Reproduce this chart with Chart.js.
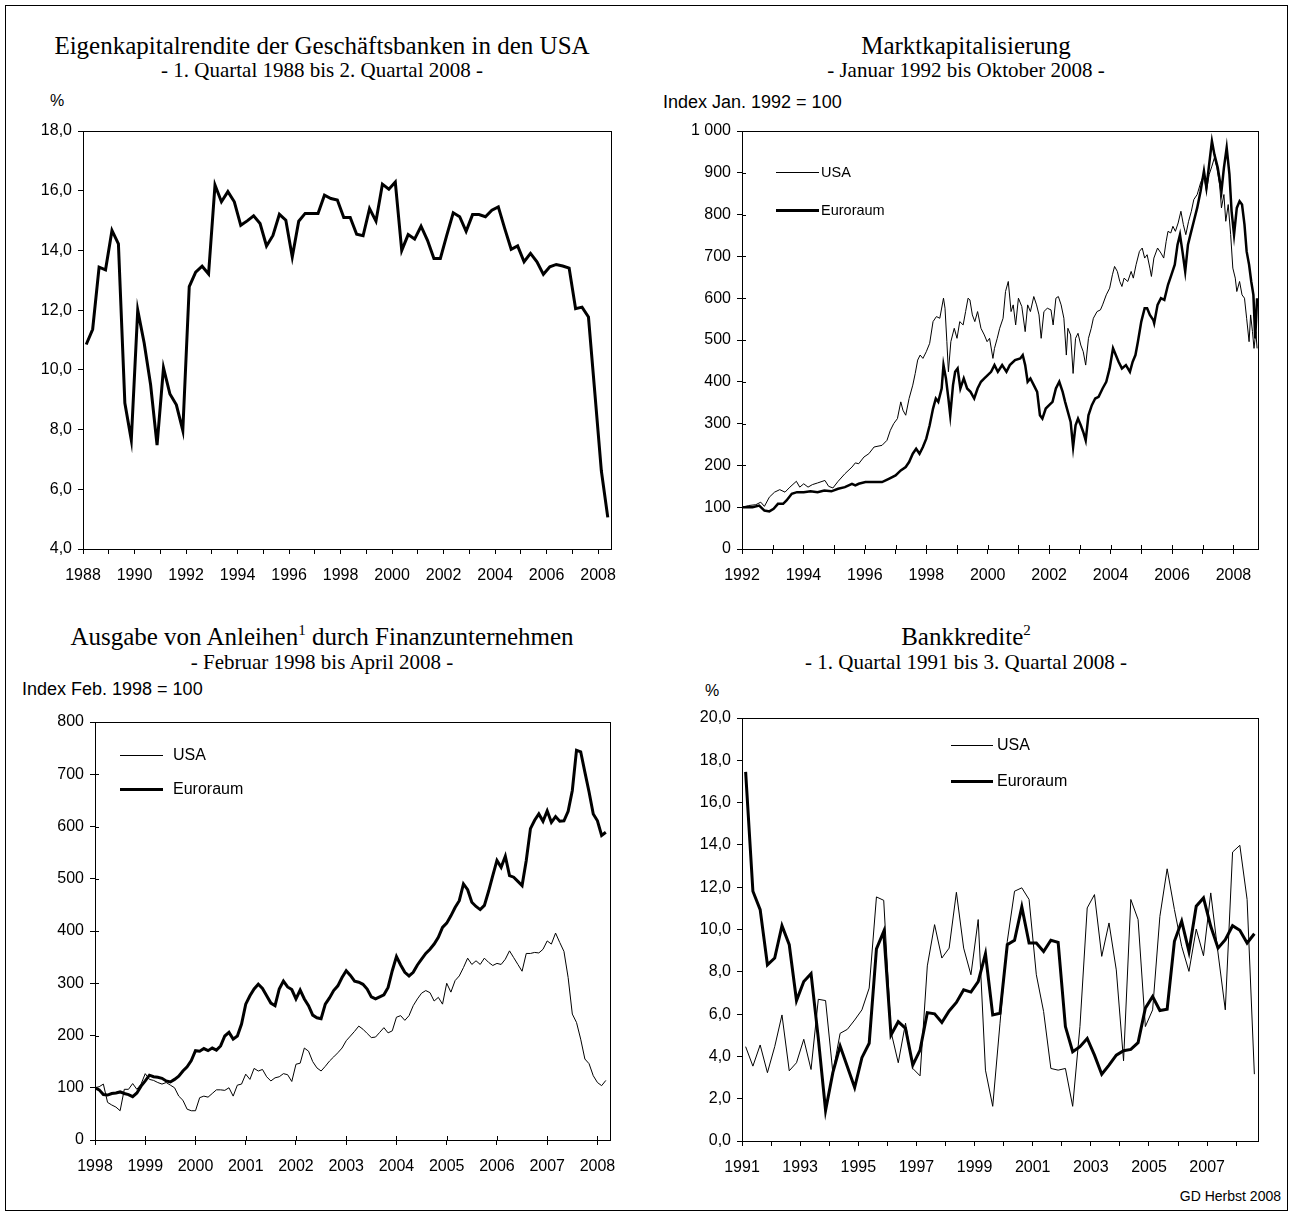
<!DOCTYPE html>
<html>
<head>
<meta charset="utf-8">
<script src="https://cdn.jsdelivr.net/npm/chart.js@4.4.0/dist/chart.umd.min.js"></script>
<style>
  body { margin: 0; background: #fff; }
  #page { position: relative; width: 1293px; height: 1216px; font-family: "Liberation Sans", Arial, sans-serif; color: #000; }
  #border { position: absolute; left: 5px; top: 5px; width: 1281px; height: 1204px; border: 1px solid #000; }
  .title, .sub { position: absolute; width: 644px; text-align: center; font-family: "Liberation Serif", "Times New Roman", serif; white-space: nowrap; }
  .title { font-size: 25px; line-height: 28px; }
  .sub { font-size: 21px; line-height: 24px; }
  .title sup { font-size: 15px; line-height: 0; vertical-align: 10px; }
  .unit { position: absolute; font-size: 18px; line-height: 20px; white-space: nowrap; }
  .leg { position: absolute; line-height: 20px; white-space: nowrap; }
  .legline { position: absolute; background: #000; }
  canvas { position: absolute; }
</style>
</head>
<body>
<div id="page">
  <div id="border"></div>

  <div class="title" style="left:0;top:32px">Eigenkapitalrendite der Geschäftsbanken in den USA</div>
  <div class="sub" style="left:0;top:58px">- 1. Quartal 1988 bis 2. Quartal 2008 -</div>
  <div class="unit" style="left:50px;top:91px;font-size:16px">%</div>

  <div class="title" style="left:644px;top:32px">Marktkapitalisierung</div>
  <div class="sub" style="left:644px;top:58px">- Januar 1992 bis Oktober 2008 -</div>
  <div class="unit" style="left:663px;top:92px">Index Jan. 1992 = 100</div>

  <div class="title" style="left:0;top:623px">Ausgabe von Anleihen<sup>1</sup> durch Finanzunternehmen</div>
  <div class="sub" style="left:0;top:650px">- Februar 1998 bis April 2008 -</div>
  <div class="unit" style="left:22px;top:679px">Index Feb. 1998 = 100</div>

  <div class="title" style="left:644px;top:623px">Bankkredite<sup>2</sup></div>
  <div class="sub" style="left:644px;top:650px">- 1. Quartal 1991 bis 3. Quartal 2008 -</div>
  <div class="unit" style="left:705px;top:681px;font-size:16px">%</div>

  <div class="unit" style="right:12px;top:1186px;font-size:14px">GD Herbst 2008</div>
</div>

<script>
// Eigenkapitalrendite, quarterly from Q1 1988
const ekStart = 1988;
const ekValues = [10.85, 11.36, 13.44, 13.35, 14.67, 14.22, 8.89, 7.65, 12.0, 10.9,
  9.5, 7.48, 10.07, 9.19, 8.83, 7.97, 12.79, 13.27, 13.47, 13.21,
  16.19, 15.63, 15.97, 15.63, 14.84, 14.99, 15.16, 14.9, 14.15, 14.5,
  15.21, 15.01, 13.78, 14.98, 15.24, 15.24, 15.24, 15.85, 15.74, 15.69,
  15.1, 15.1, 14.54, 14.49, 15.4, 14.98, 16.22, 16.05, 16.29, 14.0,
  14.53, 14.38, 14.81, 14.34, 13.73, 13.73, 14.51, 15.26, 15.13, 14.64,
  15.2, 15.2, 15.13, 15.35, 15.46, 14.73, 14.04, 14.15, 13.62, 13.9,
  13.62, 13.2, 13.45, 13.53, 13.48, 13.41, 12.05, 12.1, 11.77, 9.2,
  6.62, 5.06];

// Marktkapitalisierung, index Jan 1992 = 100 (time in decimal years)
const mkUsaT = [1992.0, 1992.22, 1992.45, 1992.61, 1992.73, 1992.89, 1993.06, 1993.23, 1993.4, 1993.56,
  1993.77, 1993.88, 1994.01, 1994.15, 1994.29, 1994.46, 1994.7, 1994.82, 1994.96, 1995.13,
  1995.35, 1995.58, 1995.69, 1995.8, 1995.97, 1996.13, 1996.3, 1996.56, 1996.72, 1996.83,
  1996.94, 1997.06, 1997.17, 1997.24, 1997.33, 1997.44, 1997.56, 1997.64, 1997.72, 1997.8,
  1997.89, 1998.0, 1998.11, 1998.22, 1998.33, 1998.44, 1998.56, 1998.61, 1998.67, 1998.72,
  1998.8, 1998.91, 1999.0, 1999.09, 1999.2, 1999.28, 1999.36, 1999.42, 1999.5, 1999.58,
  1999.67, 1999.78, 1999.89, 1999.98, 2000.06, 2000.17, 2000.22, 2000.31, 2000.39, 2000.5,
  2000.58, 2000.67, 2000.76, 2000.83, 2000.91, 2001.0, 2001.11, 2001.22, 2001.3, 2001.39,
  2001.5, 2001.59, 2001.67, 2001.74, 2001.83, 2001.94, 2002.06, 2002.13, 2002.22, 2002.3,
  2002.39, 2002.48, 2002.56, 2002.61, 2002.7, 2002.78, 2002.86, 2002.94, 2003.03, 2003.11,
  2003.19, 2003.28, 2003.37, 2003.44, 2003.56, 2003.67, 2003.74, 2003.86, 2003.97, 2004.06,
  2004.13, 2004.22, 2004.3, 2004.37, 2004.44, 2004.56, 2004.67, 2004.74, 2004.83, 2004.94,
  2005.03, 2005.11, 2005.19, 2005.28, 2005.33, 2005.41, 2005.53, 2005.64, 2005.73, 2005.81,
  2005.87, 2005.96, 2006.03, 2006.11, 2006.2, 2006.29, 2006.37, 2006.45, 2006.54, 2006.63,
  2006.71, 2006.82, 2006.93, 2007.04, 2007.12, 2007.21, 2007.3, 2007.38, 2007.46, 2007.55,
  2007.61, 2007.69, 2007.75, 2007.83, 2007.91, 2007.98, 2008.06, 2008.11, 2008.2, 2008.28,
  2008.36, 2008.43, 2008.51, 2008.56, 2008.62, 2008.67, 2008.73, 2008.77];
const mkUsaV = [100, 104, 106, 112, 102, 124, 136, 142, 136, 148,
  162, 148, 156, 148, 154, 158, 164, 150, 146, 162,
  180, 196, 206, 204, 220, 228, 244, 248, 260, 284,
  300, 312, 352, 332, 320, 360, 392, 420, 452, 464,
  456, 472, 492, 544, 556, 552, 600, 576, 496, 424,
  496, 528, 504, 544, 536, 568, 600, 596, 560, 544,
  568, 528, 512, 496, 504, 456, 480, 504, 528, 552,
  616, 640, 568, 584, 536, 600, 580, 520, 584, 568,
  604, 584, 560, 504, 568, 576, 572, 536, 600, 604,
  584, 552, 464, 528, 512, 420, 504, 516, 488, 472,
  440, 504, 528, 552, 568, 572, 584, 608, 624, 656,
  676, 664, 640, 628, 648, 640, 664, 648, 680, 712,
  720, 696, 704, 672, 652, 696, 720, 708, 696, 736,
  760, 756, 772, 760, 780, 808, 776, 752, 784, 808,
  836, 848, 876, 896, 856, 896, 916, 936, 912, 872,
  816, 848, 784, 824, 752, 672, 648, 616, 640, 608,
  600, 552, 496, 560, 520, 480, 520, 480];
const mkEuroT = [1992.0, 1992.34, 1992.56, 1992.73, 1992.89, 1993.03, 1993.17, 1993.34, 1993.45, 1993.62,
  1993.79, 1994.01, 1994.23, 1994.46, 1994.68, 1994.91, 1995.13, 1995.35, 1995.58, 1995.69,
  1995.8, 1996.02, 1996.25, 1996.56, 1996.78, 1997.0, 1997.17, 1997.33, 1997.44, 1997.56,
  1997.67, 1997.78, 1997.89, 1998.0, 1998.11, 1998.22, 1998.31, 1998.39, 1998.5, 1998.56,
  1998.64, 1998.72, 1998.78, 1998.87, 1998.94, 1999.02, 1999.11, 1999.22, 1999.33, 1999.44,
  1999.56, 1999.67, 1999.78, 1999.89, 2000.0, 2000.11, 2000.22, 2000.33, 2000.47, 2000.61,
  2000.72, 2000.89, 2001.06, 2001.14, 2001.22, 2001.3, 2001.39, 2001.5, 2001.61, 2001.7,
  2001.78, 2001.89, 2002.0, 2002.11, 2002.22, 2002.33, 2002.44, 2002.52, 2002.61, 2002.7,
  2002.78, 2002.86, 2002.94, 2003.03, 2003.11, 2003.19, 2003.28, 2003.39, 2003.5, 2003.61,
  2003.74, 2003.86, 2003.97, 2004.08, 2004.17, 2004.26, 2004.37, 2004.5, 2004.63, 2004.72,
  2004.81, 2004.89, 2005.0, 2005.11, 2005.19, 2005.28, 2005.39, 2005.42, 2005.53, 2005.64,
  2005.75, 2005.87, 2005.98, 2006.09, 2006.18, 2006.26, 2006.34, 2006.43, 2006.52, 2006.6,
  2006.71, 2006.82, 2006.93, 2007.04, 2007.12, 2007.21, 2007.3, 2007.38, 2007.49, 2007.61,
  2007.69, 2007.78, 2007.87, 2007.94, 2008.02, 2008.11, 2008.2, 2008.28, 2008.36, 2008.43,
  2008.51, 2008.58, 2008.65, 2008.71, 2008.75, 2008.77];
const mkEuroV = [100, 100, 104, 92, 90, 96, 108, 108, 116, 132,
  136, 136, 138, 136, 140, 138, 144, 148, 156, 152,
  156, 160, 160, 160, 168, 176, 188, 196, 208, 228,
  240, 228, 244, 264, 296, 336, 360, 352, 384, 440,
  408, 360, 320, 392, 424, 432, 384, 408, 384, 376,
  360, 384, 400, 408, 416, 424, 440, 424, 440, 424,
  440, 452, 456, 464, 440, 400, 408, 392, 376, 320,
  312, 336, 344, 352, 384, 400, 376, 352, 328, 304,
  244, 296, 312, 296, 280, 260, 320, 344, 360, 364,
  384, 400, 432, 480, 464, 448, 432, 440, 424, 448,
  464, 496, 544, 576, 576, 560, 548, 540, 584, 600,
  596, 632, 656, 680, 728, 752, 712, 664, 728, 752,
  784, 816, 856, 904, 864, 920, 976, 944, 912, 856,
  912, 960, 896, 808, 752, 816, 832, 824, 776, 712,
  680, 640, 608, 504, 568, 600];

// Ausgabe von Anleihen, monthly from Feb 1998, index Feb 1998 = 100
const anStart = 1998;
const anUsa = [100, 102, 107, 72, 67, 63, 56, 97, 97, 108,
  97, 107, 127, 116, 114, 110, 107, 110, 105, 100,
  84, 76, 59, 56, 56, 81, 84, 82, 89, 96,
  96, 95, 100, 84, 105, 107, 126, 116, 137, 132,
  135, 121, 113, 119, 121, 127, 125, 112, 145, 147,
  176, 170, 150, 138, 132, 141, 151, 159, 167, 176,
  190, 199, 208, 218, 212, 204, 196, 197, 206, 215,
  205, 209, 235, 238, 229, 238, 257, 270, 281, 286,
  282, 266, 273, 260, 300, 283, 305, 314, 330, 348,
  336, 343, 336, 348, 340, 334, 338, 336, 346, 362,
  349, 336, 323, 357, 357, 359, 358, 365, 381, 375,
  396, 378, 361, 311, 241, 225, 193, 155, 146, 123,
  110, 104, 114];
const anEuro = [100, 96, 87, 86, 89, 90, 92, 89, 87, 83,
  90, 103, 113, 124, 121, 120, 118, 113, 111, 116,
  122, 132, 140, 152, 171, 170, 175, 171, 176, 172,
  180, 199, 206, 193, 199, 222, 260, 276, 289, 298,
  290, 276, 262, 257, 289, 304, 293, 288, 270, 287,
  270, 257, 239, 234, 232, 260, 272, 286, 295, 311,
  324, 315, 304, 302, 298, 289, 274, 270, 274, 278,
  292, 324, 351, 335, 321, 314, 321, 335, 346, 357,
  365, 375, 388, 407, 415, 429, 445, 458, 490, 479,
  455, 447, 441, 449, 476, 506, 535, 522, 543, 506,
  503, 495, 487, 535, 596, 612, 624, 610, 630, 608,
  619, 610, 611, 629, 669, 746, 743, 704, 666, 624,
  611, 583, 589];

// Bankkredite, quarterly from Q1 1991, % change
const bkStart = 1991;
const bkUsa = [4.46, 3.54, 4.54, 3.23, 4.46, 5.96, 3.32, 3.70, 4.81, 3.38,
  6.70, 6.64, 3.23, 5.09, 5.28, 5.72, 6.20, 7.23, 11.54, 11.38,
  5.17, 3.70, 5.57, 3.43, 3.08, 8.28, 10.23, 8.65, 9.12, 11.76,
  9.12, 7.86, 10.47, 3.35, 1.64, 5.57, 9.44, 11.81, 11.97, 11.42,
  7.86, 6.12, 3.43, 3.35, 3.43, 1.64, 5.41, 11.02, 11.65, 8.73,
  10.31, 8.09, 3.79, 11.42, 10.47, 5.41, 6.20, 10.62, 12.87, 10.94,
  9.20, 8.02, 10.02, 8.76, 11.73, 8.89, 6.20, 13.66, 13.98, 11.42,
  3.16];
const bkEuro = [17.45, 11.81, 10.94, 8.33, 8.65, 10.18, 9.28, 6.64, 7.54, 7.91,
  4.85, 1.45, 3.23, 4.49, 3.51, 2.53, 3.94, 4.62, 9.08, 9.91,
  5.01, 5.64, 5.33, 3.59, 4.30, 6.07, 6.01, 5.60, 6.15, 6.55,
  7.15, 7.04, 7.54, 8.85, 5.96, 6.04, 9.28, 9.49, 11.07, 9.36,
  9.36, 8.96, 9.49, 9.39, 5.41, 4.22, 4.46, 4.85, 4.06, 3.16,
  3.59, 4.06, 4.27, 4.33, 4.65, 6.28, 6.83, 6.17, 6.23, 9.44,
  10.39, 8.96, 11.10, 11.49, 10.15, 9.12, 9.52, 10.18, 9.96, 9.36,
  9.80];

const FONT = { family: '"Liberation Sans", Arial, sans-serif', size: 16 };

// box around the plot area plus short inner tick marks where the original has crossing ticks
const framePlugin = {
  id: 'frame',
  afterDraw(chart, args, opts) {
    const { ctx, chartArea: a, scales } = chart;
    ctx.save();
    ctx.strokeStyle = '#000';
    ctx.lineWidth = 1;
    ctx.strokeRect(Math.round(a.left) + 0.5, Math.round(a.top) + 0.5,
      Math.round(a.right - a.left), Math.round(a.bottom - a.top));
    if (opts.inner) {
      ctx.beginPath();
      scales.x.ticks.forEach(t => {
        const x = Math.round(scales.x.getPixelForValue(t.value)) + 0.5;
        ctx.moveTo(x, a.bottom); ctx.lineTo(x, a.bottom - opts.inner);
      });
      scales.y.ticks.forEach(t => {
        const y = Math.round(scales.y.getPixelForValue(t.value)) + 0.5;
        ctx.moveTo(a.left, y); ctx.lineTo(a.left + opts.inner, y);
      });
      ctx.stroke();
    }
    ctx.restore();
  }
};

function years(from, to) {
  const out = [];
  for (let y = from; y <= to; y++) out.push({ value: y });
  return out;
}

function makeChart(box, datasets, xCfg, yCfg, inner) {
  const YW = 80, PT = 22, PR = 28, XH = 46;
  const cv = document.createElement('canvas');
  const w = YW + (box.R - box.L) + PR, h = PT + (box.B - box.T) + XH;
  cv.width = w; cv.height = h;
  cv.style.left = (box.L - YW) + 'px';
  cv.style.top = (box.T - PT) + 'px';
  document.getElementById('page').appendChild(cv);
  new Chart(cv, {
    type: 'line',
    data: { datasets: datasets },
    plugins: [framePlugin],
    options: {
      responsive: false,
      animation: false,
      layout: { padding: { top: PT, right: PR, left: 0, bottom: 0 } },
      elements: { point: { radius: 0 }, line: { tension: 0, borderColor: '#000' } },
      plugins: { legend: { display: false }, tooltip: { enabled: false }, frame: { inner: inner } },
      scales: {
        x: {
          type: 'linear', min: xCfg.min, max: xCfg.max,
          afterBuildTicks: s => { s.ticks = years(xCfg.first, xCfg.last); },
          afterFit: s => { s.height = XH; },
          grid: { drawOnChartArea: false, tickLength: 5, color: '#000' },
          border: { color: '#000', width: 1 },
          ticks: { autoSkip: false, maxRotation: 0, padding: 12, color: '#000', font: FONT, callback: xCfg.label }
        },
        y: {
          min: yCfg.min, max: yCfg.max,
          afterFit: s => { s.width = YW; },
          grid: { drawOnChartArea: false, tickLength: 5, color: '#000' },
          border: { color: '#000', width: 1 },
          ticks: { stepSize: yCfg.step, padding: 6, color: '#000', font: FONT, callback: yCfg.label }
        }
      }
    }
  });
}

function legend(x, y, len, gap, size, text, lw) {
  const page = document.getElementById('page');
  const l = document.createElement('div');
  l.className = 'legline';
  l.style.cssText = `left:${x}px;top:${y - lw / 2}px;width:${len}px;height:${lw}px`;
  page.appendChild(l);
  const t = document.createElement('div');
  t.className = 'leg';
  t.style.cssText = `left:${x + len + gap}px;top:${y - 10}px;font-size:${size}px`;
  t.textContent = text;
  page.appendChild(t);
}

const comma1 = v => v.toFixed(1).replace('.', ',');
const thousands = v => String(v).replace(/\B(?=(\d{3})+(?!\d))/g, ' ');
const evenYears = v => (v % 2 === 0 ? String(v) : '');
const oddYears = v => (v % 2 !== 0 ? String(v) : '');

// chart 1
makeChart({ L: 83, R: 611, T: 131, B: 549 },
  [{ data: ekValues.map((v, i) => ({ x: ekStart + (i + 0.5) / 4, y: v })), borderWidth: 3 }],
  { min: 1988, max: 2008.5, first: 1988, last: 2008, label: evenYears },
  { min: 4, max: 18, step: 2, label: comma1 });

// chart 2
makeChart({ L: 742, R: 1258, T: 131, B: 549 },
  [
    { data: mkUsaT.map((t, i) => ({ x: t, y: mkUsaV[i] })), borderWidth: 1 },
    { data: mkEuroT.map((t, i) => ({ x: t, y: mkEuroV[i] })), borderWidth: 2.5 }
  ],
  { min: 1992, max: 2008.8, first: 1992, last: 2008, label: evenYears },
  { min: 0, max: 1000, step: 100, label: thousands }, 4);
legend(776, 172, 43, 2, 14.5, 'USA', 1);
legend(776, 210, 43, 2, 14.5, 'Euroraum', 3);

// chart 3
makeChart({ L: 95, R: 610, T: 722, B: 1140 },
  [
    { data: anUsa.map((v, i) => ({ x: anStart + i / 12, y: v })), borderWidth: 1 },
    { data: anEuro.map((v, i) => ({ x: anStart + i / 12, y: v })), borderWidth: 3 }
  ],
  { min: 1998, max: 2008.25, first: 1998, last: 2008, label: v => String(v) },
  { min: 0, max: 800, step: 100, label: v => String(v) }, 4);
legend(120, 755, 43, 10, 16, 'USA', 1);
legend(120, 789, 43, 10, 16, 'Euroraum', 3);

// chart 4
makeChart({ L: 742, R: 1258, T: 718, B: 1141 },
  [
    { data: bkUsa.map((v, i) => ({ x: bkStart + (i + 0.5) / 4, y: v })), borderWidth: 1 },
    { data: bkEuro.map((v, i) => ({ x: bkStart + (i + 0.5) / 4, y: v })), borderWidth: 3 }
  ],
  { min: 1991, max: 2008.75, first: 1991, last: 2008, label: oddYears },
  { min: 0, max: 20, step: 2, label: comma1 });
legend(951, 745, 42, 4, 16, 'USA', 1);
legend(951, 781, 42, 4, 16, 'Euroraum', 3);
</script>
</body>
</html>
